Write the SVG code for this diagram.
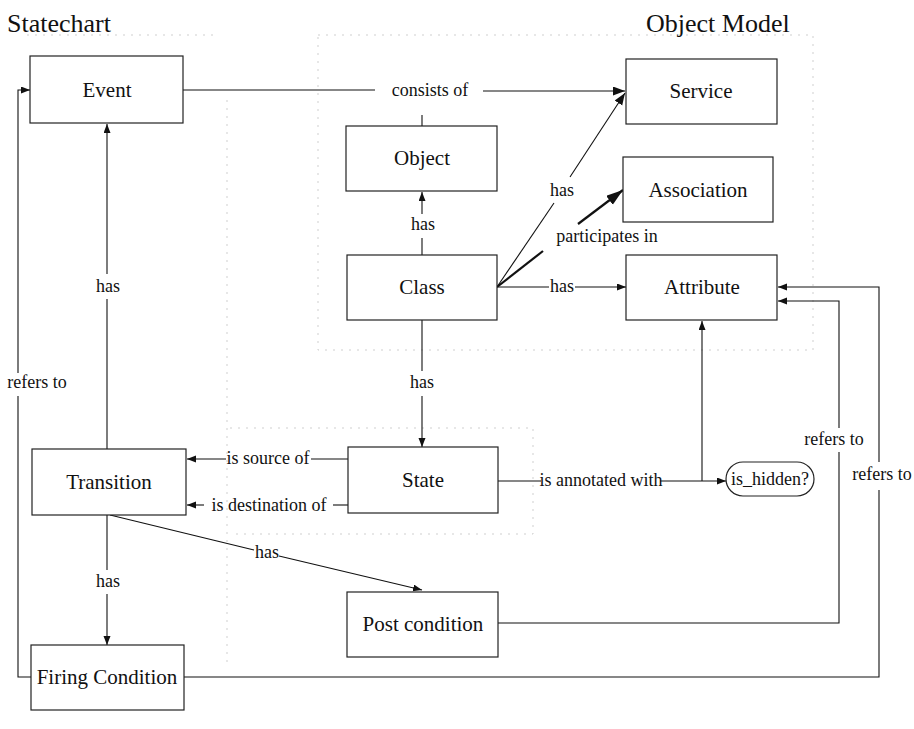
<svg xmlns="http://www.w3.org/2000/svg" width="914" height="729" viewBox="0 0 914 729">
<style>
  .frame{fill:none;stroke:#cfcfcf;stroke-width:1;stroke-dasharray:2 6}
  .box{fill:#fff;stroke:#222;stroke-width:1.2}
  .ln{fill:none;stroke:#111;stroke-width:1.1}
  .bold{fill:none;stroke:#111;stroke-width:2.2}
  .nt{font-family:"Liberation Serif","Times New Roman",serif;font-size:21px;fill:#111;text-anchor:middle}
  .et{font-family:"Liberation Serif","Times New Roman",serif;font-size:18px;fill:#111;text-anchor:middle}
  .tt{font-family:"Liberation Serif","Times New Roman",serif;font-size:26px;fill:#111}
</style>
<defs>
  <marker id="ah" markerUnits="userSpaceOnUse" markerWidth="10" markerHeight="8" refX="9" refY="3.5" orient="auto">
    <path d="M0,0 L9,3.5 L0,7 z" fill="#111"/>
  </marker>
  <marker id="ahm" markerUnits="userSpaceOnUse" markerWidth="13" markerHeight="10" refX="12" refY="4.5" orient="auto">
    <path d="M0,0 L12,4.5 L0,9 z" fill="#111"/>
  </marker>
  <marker id="ahb" markerUnits="userSpaceOnUse" markerWidth="18" markerHeight="12" refX="17" refY="5.5" orient="auto">
    <path d="M0,0 L17,5.5 L0,11 z" fill="#111"/>
  </marker>
</defs>
<rect width="914" height="729" fill="#fff"/>

<g id="frames">
  <path class="frame" d="M27,35 H217"/>
  <path class="frame" d="M318,35 H813 V350 H318 Z"/>
  <path class="frame" d="M227,100 V665"/>
  <path class="frame" d="M230,428 H533 V534 H233"/>
</g>

<g id="titles">
  <text class="tt" x="7" y="32">Statechart</text>
  <text class="tt" x="646" y="32">Object Model</text>
</g>

<g id="connectors">
  <!-- Event consists of Service / Object -->
  <path class="ln" d="M183,90 H375"/>
  <path class="ln" d="M483,91 H625" marker-end="url(#ahm)"/>
  <path class="ln" d="M422,115 V126"/>
  <text class="et" x="430" y="96">consists of</text>

  <!-- Class has Object -->
  <path class="ln" d="M422,255 V238"/>
  <path class="ln" d="M422,214 V192" marker-end="url(#ah)"/>
  <text class="et" x="423" y="230">has</text>

  <!-- Class has Service -->
  <path class="ln" d="M497,287 L554,203"/>
  <path class="ln" d="M570,177 L625,93" marker-end="url(#ahm)"/>
  <text class="et" x="562" y="196">has</text>

  <!-- Class participates in Association -->
  <path class="bold" d="M497,287 L543,251"/>
  <path class="bold" d="M578,224 L623,190" marker-end="url(#ahb)"/>
  <text class="et" x="607" y="242">participates in</text>

  <!-- Class has Attribute -->
  <path class="ln" d="M497,287 H549"/>
  <path class="ln" d="M575,287 H626" marker-end="url(#ah)"/>
  <text class="et" x="562" y="292">has</text>

  <!-- Class has State -->
  <path class="ln" d="M422,320 V371"/>
  <path class="ln" d="M422,396 V447" marker-end="url(#ah)"/>
  <text class="et" x="422" y="388">has</text>

  <!-- Transition has Event -->
  <path class="ln" d="M107,449 V299"/>
  <path class="ln" d="M107,274 V124" marker-end="url(#ah)"/>
  <text class="et" x="108" y="292">has</text>

  <!-- Firing Condition refers to Event -->
  <path class="ln" d="M31,677 H18 V396"/>
  <path class="ln" d="M18,373 V90 H30" marker-end="url(#ah)"/>
  <text class="et" x="37" y="388">refers to</text>

  <!-- State is source of Transition -->
  <path class="ln" d="M348,459 H311"/>
  <path class="ln" d="M226,459 H187" marker-end="url(#ah)"/>
  <text class="et" x="268" y="464">is source of</text>

  <!-- State is destination of Transition -->
  <path class="ln" d="M348,505 H333"/>
  <path class="ln" d="M204,505 H187" marker-end="url(#ah)"/>
  <text class="et" x="269" y="511">is destination of</text>

  <!-- Transition has Firing Condition -->
  <path class="ln" d="M107,515 V570"/>
  <path class="ln" d="M107,594 V645" marker-end="url(#ah)"/>
  <text class="et" x="108" y="587">has</text>

  <!-- Transition has Post condition -->
  <path class="ln" d="M110,515 L254,550"/>
  <path class="ln" d="M279,556 L422,590" marker-end="url(#ah)"/>
  <text class="et" x="267" y="558">has</text>

  <!-- State is annotated with is_hidden? -->
  <path class="ln" d="M498,481 H541"/>
  <path class="ln" d="M660,481 H726" marker-end="url(#ah)"/>
  <text class="et" x="601" y="486">is annotated with</text>
  <path class="ln" d="M702,481 V321" marker-end="url(#ah)"/>

  <!-- Post condition refers to Attribute -->
  <path class="ln" d="M498,623 H839 V452"/>
  <path class="ln" d="M839,428 V301 H778" marker-end="url(#ah)"/>
  <text class="et" x="834" y="445">refers to</text>

  <!-- Firing Condition refers to Attribute -->
  <path class="ln" d="M184,677 H879 V490"/>
  <path class="ln" d="M879,462 V287 H778" marker-end="url(#ah)"/>
  <text class="et" x="882" y="480">refers to</text>
</g>

<g id="event"><rect class="box" x="30" y="56" width="153" height="67"/><text class="nt" x="107" y="97">Event</text></g>
<g id="object"><rect class="box" x="346" y="126" width="151" height="65"/><text class="nt" x="422" y="165">Object</text></g>
<g id="service"><rect class="box" x="626" y="59" width="151" height="65"/><text class="nt" x="701" y="98">Service</text></g>
<g id="association"><rect class="box" x="623" y="157" width="150" height="65"/><text class="nt" x="698" y="197">Association</text></g>
<g id="class"><rect class="box" x="347" y="255" width="150" height="65"/><text class="nt" x="422" y="294">Class</text></g>
<g id="attribute"><rect class="box" x="626" y="255" width="151" height="65"/><text class="nt" x="702" y="294">Attribute</text></g>
<g id="transition"><rect class="box" x="32" y="449" width="154" height="66"/><text class="nt" x="109" y="489">Transition</text></g>
<g id="state"><rect class="box" x="348" y="447" width="150" height="66"/><text class="nt" x="423" y="487">State</text></g>
<g id="is_hidden"><rect class="box" x="726" y="462" width="88" height="34" rx="17" ry="17"/><text class="et" x="770" y="485">is_hidden?</text></g>
<g id="post_condition"><rect class="box" x="347" y="592" width="151" height="65"/><text class="nt" x="423" y="631">Post condition</text></g>
<g id="firing_condition"><rect class="box" x="31" y="645" width="153" height="65"/><text class="nt" x="107" y="684">Firing Condition</text></g>
</svg>
